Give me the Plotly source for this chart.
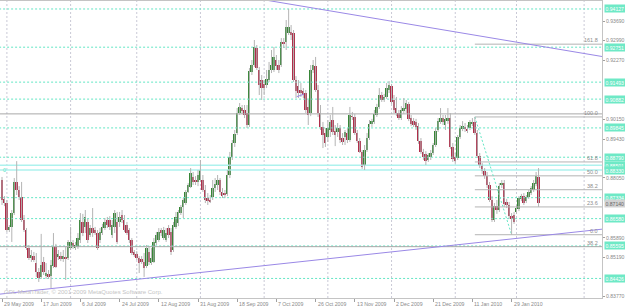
import plotly.graph_objects as go
import pandas as pd

# ---------------- data ----------------
open_ = [0.8797, 0.8729, 0.8714, 0.8617, 0.8628, 0.8678, 0.8790, 0.8761, 0.8736, 0.8653,
         0.8617, 0.8552, 0.8516, 0.8523, 0.8498, 0.8466, 0.8448, 0.8502, 0.8451, 0.8459,
         0.8451, 0.8487, 0.8556, 0.8520, 0.8523, 0.8513, 0.8520, 0.8516, 0.8552, 0.8570,
         0.8552, 0.8556, 0.8581, 0.8646, 0.8628, 0.8646, 0.8599, 0.8624, 0.8617, 0.8606,
         0.8581, 0.8606, 0.8624, 0.8653, 0.8653, 0.8599, 0.8628, 0.8646, 0.8646, 0.8671,
         0.8653, 0.8635, 0.8617, 0.8581, 0.8538, 0.8531, 0.8516, 0.8513, 0.8502, 0.8487,
         0.8538, 0.8498, 0.8502, 0.8570, 0.8581, 0.8617, 0.8588, 0.8581, 0.8624, 0.8610,
         0.8545, 0.8628, 0.8642, 0.8678, 0.8700, 0.8714, 0.8754, 0.8772, 0.8808, 0.8797,
         0.8790, 0.8797, 0.8797, 0.8761, 0.8732, 0.8725, 0.8736, 0.8768, 0.8779, 0.8797,
         0.8754, 0.8750, 0.8747, 0.8815, 0.8880, 0.8930, 0.8966, 0.9038, 0.9056, 0.9049,
         0.9038, 0.8995, 0.9186, 0.9211, 0.9272, 0.9193, 0.9157, 0.9143, 0.9139, 0.9157,
         0.9193, 0.9193, 0.9229, 0.9211, 0.9211, 0.9294, 0.9294, 0.9326, 0.9330, 0.9326,
         0.9157, 0.9135, 0.9121, 0.9117, 0.9110, 0.9060, 0.9038, 0.9193, 0.9207, 0.9121,
         0.9038, 0.8988, 0.8966, 0.8952, 0.8977, 0.9013, 0.8973, 0.8970, 0.8984, 0.8948,
         0.8952, 0.8966, 0.8941, 0.9027, 0.9024, 0.8966, 0.8937, 0.8898, 0.8851, 0.8905,
         0.8948, 0.8999, 0.9006, 0.9031, 0.9060, 0.9103, 0.9085, 0.9096, 0.9121, 0.9135,
         0.9085, 0.9056, 0.9038, 0.9020, 0.9045, 0.9053, 0.9071, 0.9020, 0.9009, 0.9006,
         0.8991, 0.8937, 0.8898, 0.8891, 0.8869, 0.8880, 0.8894, 0.8923, 0.8977, 0.9006,
         0.9020, 0.8995, 0.9009, 0.9020, 0.8916, 0.8880, 0.8876, 0.8952, 0.8984, 0.8988,
         0.8981, 0.8984, 0.8999, 0.9006, 0.8966, 0.8883, 0.8847, 0.8829, 0.8811, 0.8779,
         0.8725, 0.8653, 0.8703, 0.8689, 0.8779, 0.8786, 0.8718, 0.8707, 0.8667, 0.8671,
         0.8682, 0.8693, 0.8729, 0.8739, 0.8721, 0.8736, 0.8750, 0.8761, 0.8783, 0.8808]
high = [0.8808, 0.8739, 0.8725, 0.8635, 0.8689, 0.8804, 0.8865, 0.8775, 0.8790, 0.8671,
        0.8624, 0.8563, 0.8545, 0.8538, 0.8534, 0.8480, 0.8603, 0.8520, 0.8498, 0.8473,
        0.8509, 0.8606, 0.8567, 0.8545, 0.8538, 0.8545, 0.8556, 0.8581, 0.8628, 0.8581,
        0.8574, 0.8606, 0.8678, 0.8675, 0.8689, 0.8657, 0.8635, 0.8696, 0.8628, 0.8617,
        0.8624, 0.8639, 0.8660, 0.8664, 0.8667, 0.8653, 0.8689, 0.8682, 0.8682, 0.8689,
        0.8671, 0.8646, 0.8624, 0.8588, 0.8545, 0.8541, 0.8523, 0.8523, 0.8534, 0.8563,
        0.8556, 0.8552, 0.8588, 0.8610, 0.8624, 0.8624, 0.8628, 0.8624, 0.8635, 0.8624,
        0.8646, 0.8682, 0.8689, 0.8707, 0.8732, 0.8761, 0.8786, 0.8840, 0.8826, 0.8811,
        0.8833, 0.8869, 0.8815, 0.8779, 0.8750, 0.8743, 0.8797, 0.8804, 0.8815, 0.8804,
        0.8768, 0.8761, 0.8833, 0.8898, 0.8941, 0.8977, 0.9056, 0.9074, 0.9067, 0.9067,
        0.9067, 0.9200, 0.9229, 0.9301, 0.9283, 0.9204, 0.9175, 0.9157, 0.9193, 0.9222,
        0.9265, 0.9276, 0.9247, 0.9229, 0.9308, 0.9308, 0.9373, 0.9413, 0.9355, 0.9337,
        0.9171, 0.9157, 0.9146, 0.9128, 0.9121, 0.9085, 0.9211, 0.9229, 0.9240, 0.9139,
        0.9067, 0.9006, 0.8984, 0.9013, 0.9031, 0.9060, 0.8995, 0.9002, 0.8995, 0.8966,
        0.8977, 0.8984, 0.9060, 0.9042, 0.9035, 0.8977, 0.8948, 0.8905, 0.8923, 0.8966,
        0.9013, 0.9017, 0.9049, 0.9071, 0.9128, 0.9114, 0.9107, 0.9146, 0.9153, 0.9143,
        0.9103, 0.9096, 0.9049, 0.9063, 0.9092, 0.9085, 0.9078, 0.9031, 0.9020, 0.9017,
        0.9002, 0.8948, 0.8909, 0.8901, 0.8894, 0.8905, 0.8930, 0.8984, 0.9020, 0.9056,
        0.9031, 0.9031, 0.9056, 0.9038, 0.8930, 0.8894, 0.8959, 0.8995, 0.9009, 0.9002,
        0.8995, 0.9013, 0.9020, 0.9024, 0.8977, 0.8894, 0.8858, 0.8840, 0.8826, 0.8790,
        0.8739, 0.8714, 0.8725, 0.8786, 0.8797, 0.8797, 0.8729, 0.8718, 0.8678, 0.8682,
        0.8707, 0.8739, 0.8747, 0.8750, 0.8743, 0.8761, 0.8775, 0.8797, 0.8826, 0.8840]
low = [0.8707, 0.8703, 0.8610, 0.8610, 0.8574, 0.8671, 0.8743, 0.8725, 0.8646, 0.8610,
       0.8545, 0.8509, 0.8502, 0.8502, 0.8448, 0.8430, 0.8441, 0.8455, 0.8441, 0.8441,
       0.8408, 0.8480, 0.8480, 0.8509, 0.8505, 0.8502, 0.8437, 0.8509, 0.8545, 0.8549,
       0.8545, 0.8549, 0.8570, 0.8595, 0.8606, 0.8570, 0.8592, 0.8592, 0.8599, 0.8545,
       0.8570, 0.8599, 0.8617, 0.8624, 0.8617, 0.8588, 0.8606, 0.8567, 0.8628, 0.8642,
       0.8610, 0.8599, 0.8570, 0.8527, 0.8520, 0.8509, 0.8462, 0.8495, 0.8448, 0.8480,
       0.8491, 0.8491, 0.8498, 0.8563, 0.8574, 0.8595, 0.8581, 0.8574, 0.8588, 0.8527,
       0.8538, 0.8621, 0.8631, 0.8671, 0.8660, 0.8707, 0.8750, 0.8768, 0.8779, 0.8779,
       0.8775, 0.8790, 0.8754, 0.8714, 0.8707, 0.8714, 0.8725, 0.8754, 0.8761, 0.8743,
       0.8732, 0.8732, 0.8739, 0.8804, 0.8869, 0.8916, 0.8959, 0.9031, 0.9035, 0.9020,
       0.8984, 0.8988, 0.9175, 0.9204, 0.9193, 0.9103, 0.9085, 0.9103, 0.9128, 0.9150,
       0.9182, 0.9186, 0.9193, 0.9182, 0.9204, 0.9272, 0.9265, 0.9319, 0.9301, 0.9150,
       0.9092, 0.9092, 0.9096, 0.9092, 0.9038, 0.8995, 0.9027, 0.9182, 0.9114, 0.9024,
       0.8977, 0.8912, 0.8916, 0.8934, 0.8952, 0.8959, 0.8919, 0.8952, 0.8930, 0.8923,
       0.8923, 0.8930, 0.8934, 0.9013, 0.8959, 0.8930, 0.8894, 0.8837, 0.8833, 0.8898,
       0.8941, 0.8988, 0.8999, 0.9024, 0.9053, 0.9078, 0.9078, 0.9089, 0.9110, 0.9071,
       0.9038, 0.9027, 0.9013, 0.9013, 0.9035, 0.9038, 0.9009, 0.8991, 0.8988, 0.8977,
       0.8927, 0.8891, 0.8869, 0.8851, 0.8862, 0.8869, 0.8887, 0.8916, 0.8970, 0.8999,
       0.8995, 0.8977, 0.8999, 0.8909, 0.8862, 0.8855, 0.8869, 0.8945, 0.8973, 0.8970,
       0.8966, 0.8977, 0.8991, 0.8959, 0.8876, 0.8840, 0.8819, 0.8801, 0.8768, 0.8718,
       0.8646, 0.8646, 0.8675, 0.8682, 0.8768, 0.8700, 0.8696, 0.8657, 0.8600, 0.8639,
       0.8675, 0.8685, 0.8721, 0.8707, 0.8714, 0.8729, 0.8743, 0.8754, 0.8775, 0.8700]
close = [0.8725, 0.8714, 0.8617, 0.8628, 0.8678, 0.8790, 0.8761, 0.8736, 0.8653, 0.8617,
         0.8552, 0.8516, 0.8527, 0.8509, 0.8466, 0.8444, 0.8491, 0.8466, 0.8462, 0.8448,
         0.8491, 0.8556, 0.8484, 0.8531, 0.8516, 0.8523, 0.8513, 0.8574, 0.8574, 0.8556,
         0.8563, 0.8588, 0.8653, 0.8606, 0.8664, 0.8581, 0.8624, 0.8606, 0.8606, 0.8552,
         0.8610, 0.8628, 0.8646, 0.8635, 0.8628, 0.8635, 0.8678, 0.8574, 0.8664, 0.8653,
         0.8617, 0.8606, 0.8581, 0.8534, 0.8527, 0.8516, 0.8498, 0.8502, 0.8480, 0.8552,
         0.8502, 0.8516, 0.8574, 0.8599, 0.8610, 0.8606, 0.8617, 0.8606, 0.8599, 0.8538,
         0.8635, 0.8664, 0.8682, 0.8700, 0.8725, 0.8754, 0.8779, 0.8822, 0.8790, 0.8793,
         0.8815, 0.8833, 0.8761, 0.8725, 0.8721, 0.8721, 0.8768, 0.8783, 0.8797, 0.8754,
         0.8739, 0.8743, 0.8815, 0.8880, 0.8930, 0.8963, 0.9038, 0.9060, 0.9045, 0.9031,
         0.8995, 0.9189, 0.9211, 0.9276, 0.9200, 0.9139, 0.9128, 0.9128, 0.9161, 0.9193,
         0.9211, 0.9240, 0.9207, 0.9193, 0.9294, 0.9290, 0.9348, 0.9348, 0.9319, 0.9157,
         0.9117, 0.9110, 0.9110, 0.9103, 0.9049, 0.9031, 0.9193, 0.9211, 0.9121, 0.9038,
         0.8988, 0.8959, 0.8930, 0.8984, 0.9006, 0.8970, 0.8959, 0.8984, 0.8941, 0.8934,
         0.8970, 0.8941, 0.9031, 0.9024, 0.8966, 0.8937, 0.8898, 0.8844, 0.8905, 0.8948,
         0.8999, 0.9009, 0.9035, 0.9060, 0.9103, 0.9085, 0.9096, 0.9128, 0.9139, 0.9078,
         0.9049, 0.9038, 0.9020, 0.9049, 0.9056, 0.9074, 0.9017, 0.8999, 0.8995, 0.8988,
         0.8937, 0.8898, 0.8880, 0.8865, 0.8887, 0.8894, 0.8923, 0.8973, 0.9009, 0.9020,
         0.9006, 0.9017, 0.9020, 0.8916, 0.8873, 0.8865, 0.8952, 0.8984, 0.8991, 0.8984,
         0.8973, 0.9006, 0.9006, 0.8966, 0.8883, 0.8847, 0.8829, 0.8811, 0.8779, 0.8725,
         0.8653, 0.8703, 0.8689, 0.8775, 0.8786, 0.8711, 0.8707, 0.8667, 0.8657, 0.8646,
         0.8696, 0.8732, 0.8739, 0.8714, 0.8736, 0.8754, 0.8768, 0.8786, 0.8811, 0.8714]

first_day = "2009-05-29"
closed_days = ["2009-12-25", "2010-01-01"]
label_dates = ["2009-05-29", "2009-06-17", "2009-07-06", "2009-07-24", "2009-08-12",
               "2009-08-31", "2009-09-18", "2009-10-07", "2009-10-26", "2009-11-13",
               "2009-12-02", "2009-12-21", "2010-01-11", "2010-01-29"]

price_ticks = [0.93690, 0.92990, 0.92270, 0.90150, 0.89430, 0.88050, 0.85890, 0.85190, 0.83770]
dotted_levels = [0.94127, 0.92751, 0.91493, 0.90882, 0.89845, 0.88790, 0.87334, 0.86580, 0.85595, 0.84426]
solid_cyan_levels = [0.88501, 0.88330]
grey_levels = [0.9035, 0.8557]
grey_level_names = ["", "38.2"]
fib_ratios = [0.0, 23.6, 38.2, 50.0, 61.8, 100.0, 161.8]
fib_low, fib_high = 0.8600, 0.9024
fib_low_bar, fib_high_bar = 208, 193
trend_up_x, trend_up_y = [-1, 246], [0.8386, 0.8621]
trend_dn_x, trend_dn_y = [100, 246], [0.9456, 0.9240]
trend_small_x, trend_small_y = [120.3, 123.3], [0.9097, 0.9106]
month_grid_bars = [2, 28, 55, 81, 107, 133, 159, 185, 210, 237.6]

# ---------------- derived ----------------
n = len(close)
xs = list(range(n))
days = pd.date_range(first_day, periods=400, freq="D")
days = [d for d in days if d.weekday() != 5 and d.strftime("%Y-%m-%d") not in closed_days][:n]
day_str = [d.strftime("%Y-%m-%d") for d in days]
label_idx = [day_str.index(d) for d in label_dates]
label_txt = [f"{days[i].day} {days[i].strftime('%b %Y')}" for i in label_idx]

UP, DN, WICK = "#378637", "#b02e4a", "#b4b4b4"
CYAN_DOT, CYAN_LAB = "#62e6c4", "#6ee9c6"
FONT = "Liberation Sans"
LAB_SIZE = 5.1

fig = go.Figure()

XL, XR = -0.816, 244.9
YB, YT = 0.83722, 0.94414

# horizontal full-width lines
for lev in dotted_levels:
    fig.add_trace(go.Scatter(x=[XL - 2, XR + 2], y=[lev, lev], mode="lines",
                             line=dict(color=CYAN_DOT, width=1, dash="2px,2px"), hoverinfo="skip"))
for lev in solid_cyan_levels:
    fig.add_trace(go.Scatter(x=[XL - 2, XR + 2], y=[lev, lev], mode="lines",
                             line=dict(color="#aef2ee", width=1.6), hoverinfo="skip"))
for lev in grey_levels:
    fig.add_trace(go.Scatter(x=[XL - 2, XR + 2], y=[lev, lev], mode="lines",
                             line=dict(color="#a8a8a8", width=1), hoverinfo="skip"))

# fibonacci levels (ray to the right)
fib_prices = [fib_low + r / 100.0 * (fib_high - fib_low) for r in fib_ratios]
for p in fib_prices:
    fig.add_trace(go.Scatter(x=[fib_high_bar, XR + 2], y=[p, p], mode="lines",
                             line=dict(color="#b4b4b4", width=1), hoverinfo="skip"))
fig.add_trace(go.Scatter(x=[fib_high_bar, fib_low_bar], y=[fib_high, fib_low], mode="lines",
                         line=dict(color=CYAN_DOT, width=1, dash="2px,2px"), hoverinfo="skip"))

# candles: wicks then bodies
wx, wy = [], []
for i in xs:
    wx += [i, i, None]
    wy += [low[i], high[i], None]
fig.add_trace(go.Scatter(x=wx, y=wy, mode="lines", line=dict(color=WICK, width=1), hoverinfo="skip"))
base = [min(o, c) for o, c in zip(open_, close)]
hgt = [max(abs(c - o), 0.00025) for o, c in zip(open_, close)]
cols = [UP if c >= o else DN for o, c in zip(open_, close)]
fig.add_trace(go.Bar(x=xs, y=hgt, base=base, width=0.8, marker=dict(color=cols, line=dict(width=0)),
                     hoverinfo="skip"))

# trend lines
for tx, ty in [(trend_up_x, trend_up_y), (trend_dn_x, trend_dn_y), (trend_small_x, trend_small_y)]:
    fig.add_trace(go.Scatter(x=tx, y=ty, mode="lines", line=dict(color="#9a88e6", width=1), hoverinfo="skip"))

shapes = []
for gb in month_grid_bars:
    shapes.append(dict(type="line", xref="x", yref="paper", x0=gb, x1=gb, y0=0, y1=1,
                       line=dict(color="#c9c9d6", width=1, dash="2px,2px"), layer="below"))

ann = []
# date labels, left aligned at their tick
for i, t in zip(label_idx, label_txt):
    ann.append(dict(x=i, y=0, xref="x", yref="paper", text=t, showarrow=False, xanchor="left",
                    yanchor="top", xshift=0, yshift=-1, font=dict(size=5.2, color="#8a8a8a", family=FONT)))
# highlighted price labels of horizontal lines
for lev in dotted_levels + solid_cyan_levels:
    ann.append(dict(x=1, y=lev, xref="paper", yref="y", text=f"{lev:.5f}", showarrow=False,
                    xanchor="left", yanchor="middle", xshift=2, bgcolor=CYAN_LAB, borderpad=0.5,
                    font=dict(size=LAB_SIZE, color="white", family=FONT)))
# last price label
ann.append(dict(x=1, y=close[-1], xref="paper", yref="y", text=f"{close[-1]:.5f}", showarrow=False,
                xanchor="left", yanchor="middle", xshift=2, bgcolor="#d2d2d2", borderpad=0.5,
                font=dict(size=LAB_SIZE, color="#6a6a6a", family=FONT)))
# fib labels
for r, p in zip(fib_ratios, fib_prices):
    ann.append(dict(x=1, y=p, xref="paper", yref="y", text=f"{r:.1f}", showarrow=False,
                    xanchor="right", yanchor="bottom", xshift=-2, yshift=-1,
                    font=dict(size=5.5, color="#8c8c8c", family=FONT)))
for lev, nm in zip(grey_levels, grey_level_names):
    if nm:
        ann.append(dict(x=1, y=lev, xref="paper", yref="y", text=nm, showarrow=False,
                        xanchor="right", yanchor="bottom", xshift=-2, yshift=-1,
                        font=dict(size=5.5, color="#8c8c8c", family=FONT)))
# small "0" near left and copyright text
ann.append(dict(x=0, y=solid_cyan_levels[1], xref="paper", yref="y", text="0", showarrow=False,
                xanchor="left", yanchor="middle", xshift=1, font=dict(size=5.5, color=CYAN_DOT, family=FONT)))
ann.append(dict(x=0, y=0, xref="paper", yref="paper", text="ODL MetaTrader, © 2001-2009 MetaQuotes Software Corp.",
                showarrow=False, xanchor="left", yanchor="bottom", xshift=2, yshift=1,
                font=dict(size=6, color="#c4c4c4", family=FONT)))

fig.update_layout(
    template="none",
    width=625, height=308,
    margin=dict(l=0, r=23, t=1, b=10, pad=0),
    paper_bgcolor="white", plot_bgcolor="white",
    showlegend=False, bargap=0,
    font=dict(family=FONT, size=6, color="#808080"),
    xaxis=dict(range=[XL, XR], showgrid=False, zeroline=False, showline=True, mirror=True,
               linecolor="#c4c4c4", linewidth=1, ticks="outside", ticklen=3, tickcolor="#a0a0a0",
               tickvals=label_idx, showticklabels=False, automargin=False, fixedrange=True),
    yaxis=dict(range=[YB, YT], side="right", showgrid=False, zeroline=False, showline=True, mirror=True,
               linecolor="#c4c4c4", linewidth=1, ticks="outside", ticklen=2, tickcolor="#a0a0a0",
               ticklabelstandoff=0,
               tickvals=price_ticks, ticktext=[f"{p:.5f}" for p in price_ticks],
               tickfont=dict(size=LAB_SIZE, color="#8a8a8a", family=FONT), automargin=False, fixedrange=True),
    shapes=shapes, annotations=ann,
)

fig.write_html("out.html")
